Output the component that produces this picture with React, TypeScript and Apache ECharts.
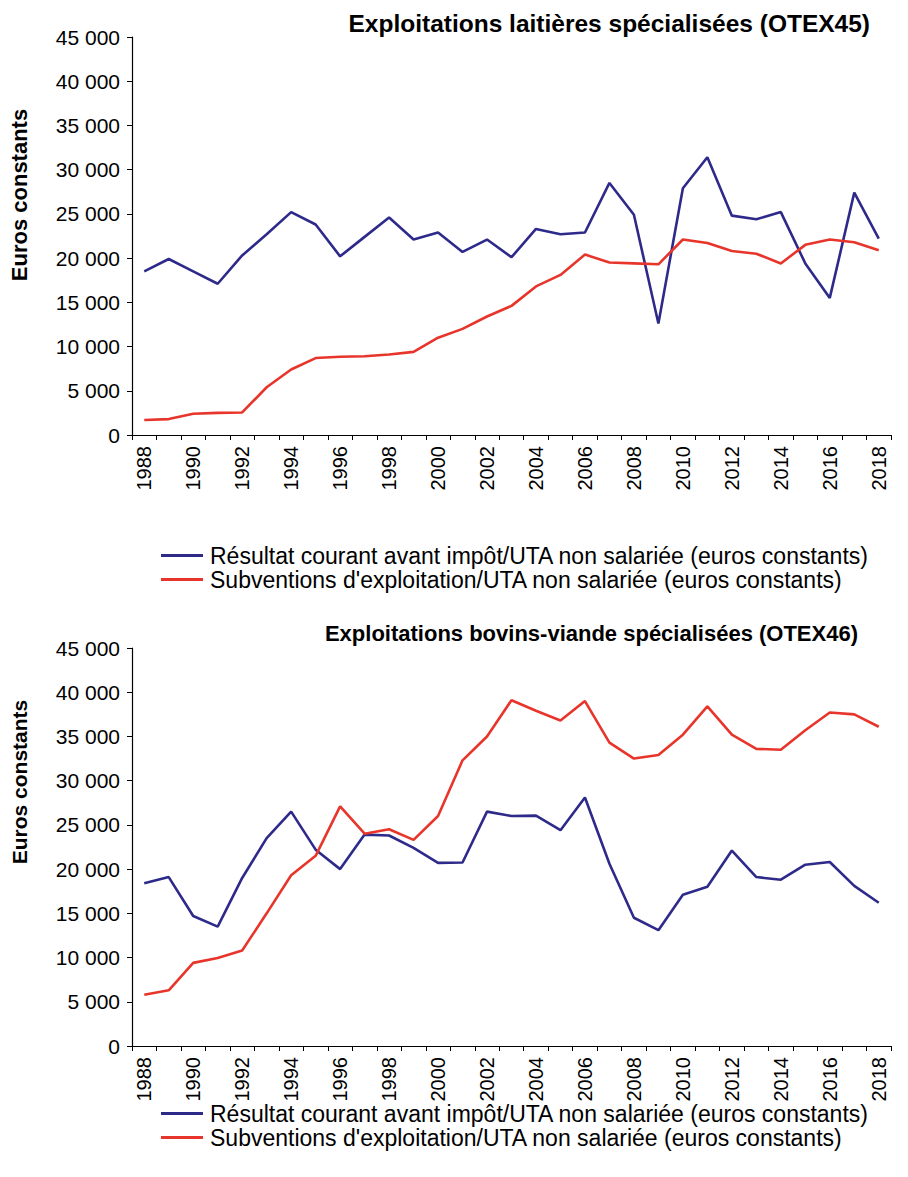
import React, { useEffect, useRef } from "react";
import * as echarts from "echarts";

const years = [
  "1988","1989","1990","1991","1992","1993","1994","1995","1996","1997","1998","1999",
  "2000","2001","2002","2003","2004","2005","2006","2007","2008","2009","2010","2011",
  "2012","2013","2014","2015","2016","2017","2018",
];

const seriesNames = [
  "Résultat courant avant impôt/UTA non salariée (euros constants)",
  "Subventions d'exploitation/UTA non salariée (euros constants)",
];

const chartTitles = [
  "Exploitations laitières spécialisées (OTEX45)",
  "Exploitations bovins-viande spécialisées (OTEX46)",
];

const yAxisName = "Euros constants";

// OTEX45
const laitResultat = [
  18500, 19900, 18500, 17100, 20300, 22700, 25200, 23800, 20200, 22400, 24600, 22100,
  22900, 20700, 22100, 20100, 23300, 22700, 22900, 28500, 24900, 12600, 27900, 31400,
  24800, 24400, 25200, 19400, 15500, 27400, 22200,
];
const laitSubventions = [
  1700, 1800, 2400, 2500, 2550, 5400, 7400, 8700, 8850, 8900, 9100, 9400,
  11000, 12000, 13400, 14600, 16800, 18100, 20400, 19500, 19400, 19300, 22100, 21700,
  20800, 20500, 19400, 21500, 22100, 21800, 20900,
];

// OTEX46
const bovinResultat = [
  18400, 19100, 14700, 13500, 19000, 23500, 26500, 22200, 20000, 23900, 23800, 22400,
  20700, 20750, 26500, 26000, 26050, 24400, 28100, 20600, 14500, 13100, 17100, 18000,
  22100, 19100, 18800, 20500, 20800, 18100, 16200,
];
const bovinSubventions = [
  5800, 6300, 9400, 9950, 10800, 15000, 19300, 21500, 27100, 24000, 24500, 23300,
  26000, 32300, 35000, 39100, 37900, 36800, 39000, 34300, 32500, 32900, 35200, 38400,
  35200, 33600, 33500, 35700, 37700, 37500, 36100,
];

const BLUE = "#2E2A8A";
const RED = "#E8352B";
const FONT = "'Liberation Sans', Arial, sans-serif";

const fmt = (v: number) =>
  String(v).replace(/\B(?=(\d{3})+(?!\d))/g, " ");

export default function App() {
  const ref = useRef<HTMLDivElement>(null);

  useEffect(() => {
    if (!ref.current) return;
    const chart = echarts.init(ref.current, null, { renderer: "svg" });

    const grids = [
      { left: 132, top: 37, width: 759, height: 398 },
      { left: 132, top: 648, width: 759, height: 398 },
    ];

    const xAxis = grids.map((_, i) => ({
      type: "category",
      gridIndex: i,
      data: years,
      boundaryGap: true,
      axisLine: { lineStyle: { color: "#000", width: 1.2 } },
      axisTick: { show: true, interval: 0, length: 5, lineStyle: { color: "#000" } },
      axisLabel: {
        interval: 1,
        rotate: 90,
        color: "#000",
        fontFamily: FONT,
        fontSize: 20,
        margin: 11,
      },
    }));

    const yAxis = grids.map((_, i) => ({
      type: "value",
      gridIndex: i,
      min: 0,
      max: 45000,
      interval: 5000,
      splitLine: { show: false },
      axisLine: { show: true, lineStyle: { color: "#000", width: 1.2 } },
      axisTick: { show: true, length: 5, lineStyle: { color: "#000" } },
      axisLabel: {
        color: "#000",
        fontFamily: FONT,
        fontSize: 21,
        margin: 12,
        formatter: (v: number) => fmt(v),
      },
    }));

    const mk = (name: string, data: number[], color: string, idx: number) => ({
      type: "line",
      name,
      data,
      xAxisIndex: idx,
      yAxisIndex: idx,
      symbol: "none",
      lineStyle: { color, width: 2.6 },
      itemStyle: { color },
    });

    const series = [
      mk(seriesNames[0], laitResultat, BLUE, 0),
      mk(seriesNames[1], laitSubventions, RED, 0),
      mk(seriesNames[0], bovinResultat, BLUE, 1),
      mk(seriesNames[1], bovinSubventions, RED, 1),
    ];

    const legendBase = {
      orient: "vertical",
      left: 156,
      icon: "rect",
      itemWidth: 42,
      itemHeight: 3,
      itemGap: 1,
      selectedMode: false,
      textStyle: {
        color: "#000",
        fontFamily: FONT,
        fontSize: 23,
        padding: [0, 0, 0, 2],
      },
      data: [
        { name: seriesNames[0], itemStyle: { color: BLUE } },
        { name: seriesNames[1], itemStyle: { color: RED } },
      ],
    };

    const legend = [
      { ...legendBase, top: 539 },
      { ...legendBase, top: 1097 },
    ];

    const graphic = [
      {
        type: "text",
        x: 870,
        y: 23,
        style: {
          text: chartTitles[0],
          fill: "#000",
          font: `bold 24.5px ${FONT}`,
          textAlign: "right",
          textVerticalAlign: "middle",
        },
      },
      {
        type: "text",
        x: 858,
        y: 633,
        style: {
          text: chartTitles[1],
          fill: "#000",
          font: `bold 22px ${FONT}`,
          textAlign: "right",
          textVerticalAlign: "middle",
        },
      },
      {
        type: "text",
        x: 19,
        y: 195,
        rotation: Math.PI / 2,
        style: {
          text: yAxisName,
          fill: "#000",
          font: `bold 22px ${FONT}`,
          textAlign: "center",
          textVerticalAlign: "middle",
        },
      },
      {
        type: "text",
        x: 19,
        y: 782,
        rotation: Math.PI / 2,
        style: {
          text: yAxisName,
          fill: "#000",
          font: `bold 21px ${FONT}`,
          textAlign: "center",
          textVerticalAlign: "middle",
        },
      },
    ];

    chart.setOption({
      animation: false,
      backgroundColor: "#fff",
      grid: grids,
      xAxis,
      yAxis,
      series,
      legend,
      graphic,
    });

    return () => chart.dispose();
  }, []);

  return (
    <div
      ref={ref}
      style={{ position: "absolute", left: 0, top: 0, width: 908, height: 1177 }}
    />
  );
}
